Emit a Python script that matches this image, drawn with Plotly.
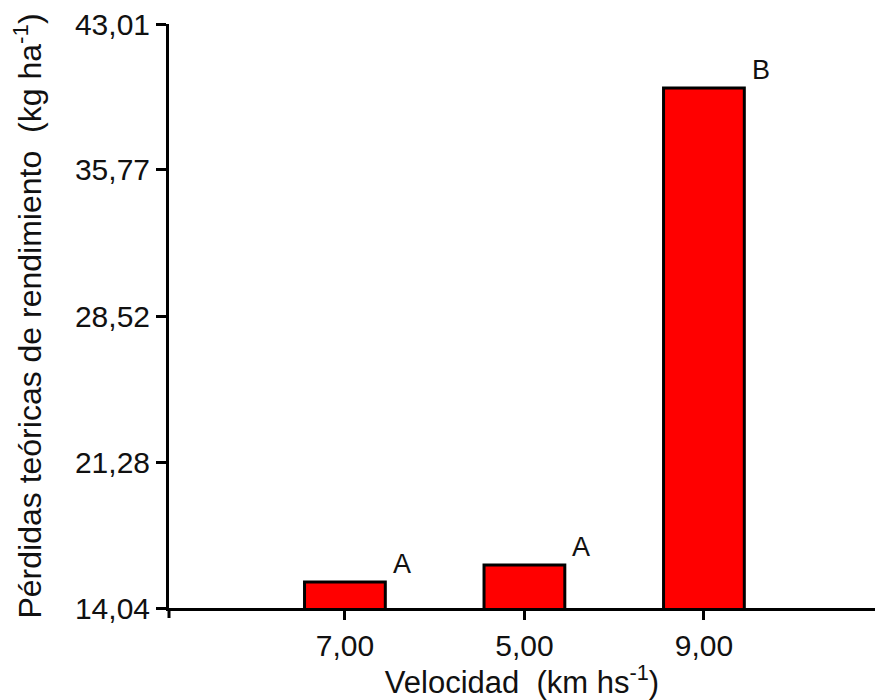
import plotly.graph_objects as go

categories = ["7,00", "5,00", "9,00"]
values = [15.33, 16.17, 39.83]
letters = ["A", "A", "B"]
y_ticks = [14.04, 21.28, 28.52, 35.77, 43.01]
y_ticktext = ["14,04", "21,28", "28,52", "35,77", "43,01"]

FONT = "Liberation Sans, Arial, sans-serif"

fig = go.Figure()
fig.add_trace(go.Bar(
    x=categories, y=values, width=0.45,
    marker=dict(color="#ff0000", line=dict(color="#000000", width=3)),
))

for c, v, t in zip(categories, values, letters):
    fig.add_annotation(x=c, y=v, text=t, showarrow=False, xshift=57, yshift=18,
                       font=dict(family=FONT, size=27, color="#111111"))

fig.add_shape(type="line", xref="paper", yref="paper", x0=0, x1=0, y0=0, y1=-10/584,
              line=dict(color="#000000", width=3))

fig.update_layout(
    width=875, height=700,
    margin=dict(l=169, r=0, t=24, b=92),
    plot_bgcolor="white", paper_bgcolor="white",
    showlegend=False,
    font=dict(family=FONT, color="#111111"),
)
fig.update_xaxes(
    type="category", range=[-0.98, 2.953],
    showline=True, linecolor="#000000", linewidth=3,
    ticks="outside", ticklen=9, tickwidth=3, tickcolor="#000000",
    tickfont=dict(size=30, family=FONT, color="#111111"),
    title=dict(text="Velocidad  (km hs<sup>-1</sup>)", font=dict(size=31, family=FONT, color="#111111"), standoff=12),
    showgrid=False, zeroline=False,
)
fig.update_yaxes(
    range=[14.04, 43.01], tickvals=y_ticks, ticktext=y_ticktext,
    showline=True, linecolor="#000000", linewidth=3,
    ticks="outside", ticklen=10, tickwidth=3, tickcolor="#000000",
    tickfont=dict(size=30, family=FONT, color="#111111"),
    title=dict(text="Pérdidas teóricas de rendimiento  (kg ha<sup>-1</sup>)", font=dict(size=32, family=FONT, color="#111111"), standoff=24),
    showgrid=False, zeroline=False,
)

fig.write_html("out.html")
